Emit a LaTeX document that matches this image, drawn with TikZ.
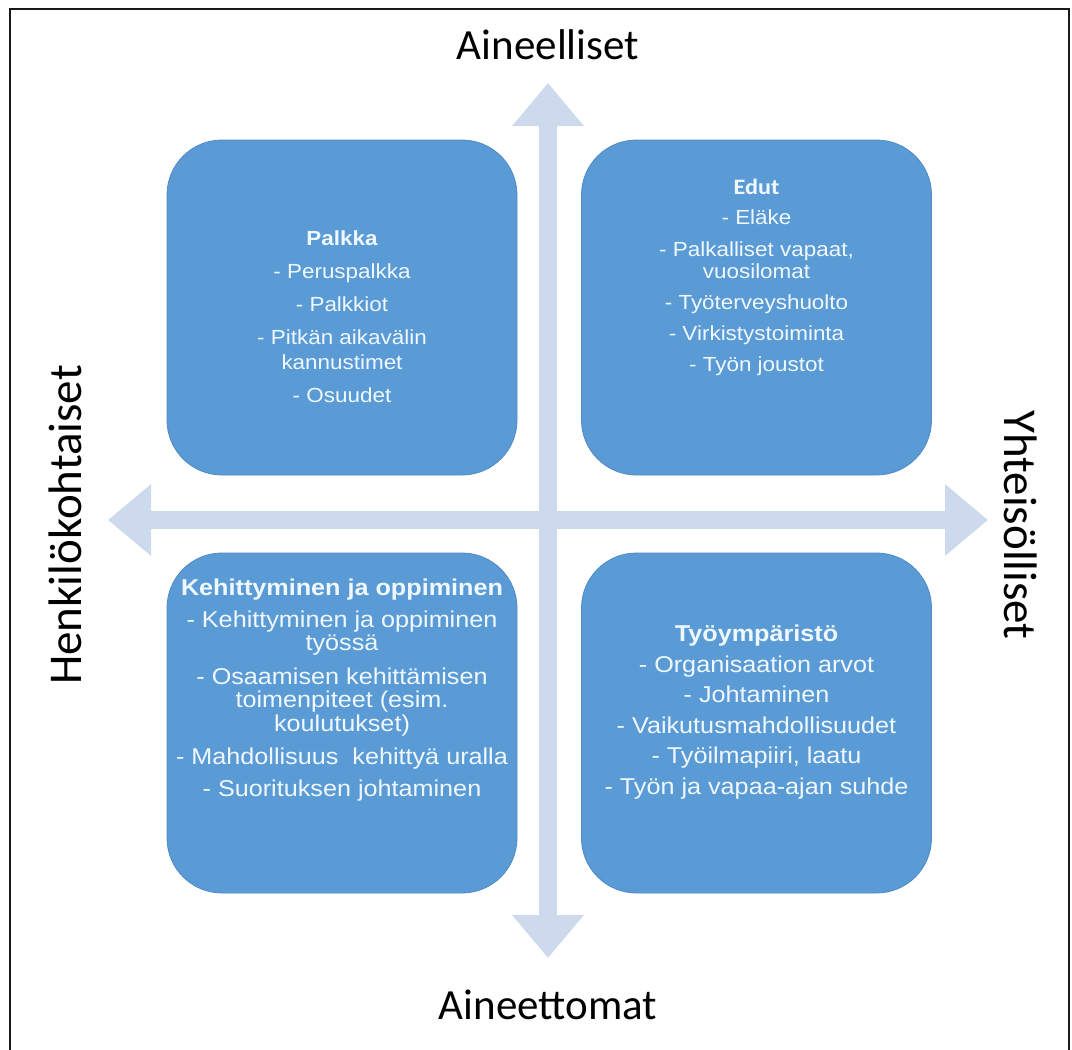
\documentclass[tikz,border=0pt]{standalone}
\usepackage{fontspec}
\setmainfont{Liberation Sans}
\newfontfamily\axisfont{Carlito}
\newfontfamily\quadfont[FakeStretch=1.1]{Liberation Sans}
\newfontfamily\edutfont[FakeStretch=1.1]{Carlito}
\usetikzlibrary{arrows.meta}

\definecolor{framecol}{RGB}{25,25,25}
\definecolor{axiscol}{RGB}{205,217,236}
\definecolor{quadfill}{RGB}{91,155,213}
\definecolor{quadline}{RGB}{78,138,198}
\definecolor{quadtext}{RGB}{240,248,255}

\begin{document}
\begin{tikzpicture}[x=1pt,y=-1pt,
  axis/.style={draw=axiscol, line width=18pt,
    {Triangle[length=43pt,width=69pt]}-{Triangle[length=43pt,width=69pt]}},
  quad/.style={fill=quadfill, draw=quadline, line width=0.8pt,
    rounded corners=55pt, inner sep=0pt},
  topquad/.style={quad, minimum width=350pt, minimum height=335pt},
  botquad/.style={quad, minimum width=350pt, minimum height=340pt},
  qtext/.style={text=quadtext, align=center, inner sep=0pt},
  toptext/.style={qtext, font=\quadfont\fontsize{20.4}{25}\selectfont},
  bottext/.style={qtext, font=\quadfont\fontsize{22.9}{23.5}\selectfont},
  axislabel/.style={font=\axisfont\fontsize{43}{50}\selectfont,
    text=black, inner sep=0pt},
  sidelabel/.style={axislabel, font=\axisfont\fontsize{47}{50}\selectfont}
]
\useasboundingbox (0,0) rectangle (1072,1050);
\clip (0,0) rectangle (1072,1050);
\fill[white] (0,0) rectangle (1072,1050);

% outer frame
\draw[framecol, line width=2.5pt] (10,9) rectangle (1069,1070);

% axes
\coordinate (ytop) at (548,83);
\coordinate (ybot) at (548,958);
\coordinate (xleft) at (108,520);
\coordinate (xright) at (988,520);
\draw[axis] (ybot) -- (ytop);
\draw[axis] (xleft) -- (xright);

% axis labels
\node[axislabel] (upper) at (548,45) {Aineelliset};
\node[axislabel] (lower) at (548,1005) {Aineettomat};
\node[sidelabel, rotate=90] (leftlab) at (65,525) {Henkilökohtaiset};
\node[sidelabel, rotate=-90] (rightlab) at (1021,525) {Yhteisölliset};

% quadrant boxes
\node[topquad] (pay) at (342,307.5) {};
\node[topquad] (benefits) at (756.5,307.5) {};
\node[botquad] (growth) at (342,723) {};
\node[botquad] (workenv) at (756.5,723) {};

% quadrant texts
\node[toptext] (paytext) at (342,316.5)
  {{\bfseries Palkka}\\[8pt]- Peruspalkka\\[8pt]- Palkkiot\\[8pt]- Pitkän aikavälin\\kannustimet\\[8pt]- Osuudet};
\node[toptext, font=\quadfont\fontsize{20.4}{22}\selectfont] (benefitstext) at (756.5,277)
  {{\edutfont\fontsize{22}{22}\selectfont\bfseries Edut}\\[8pt]- Eläke\\[10pt]- Palkalliset vapaat,\\vuosilomat\\[9pt]- Työterveyshuolto\\[9pt]- Virkistystoiminta\\[9pt]- Työn joustot};
\node[bottext] (growthtext) at (342,690)
  {{\bfseries Kehittyminen ja oppiminen}\\[8pt]- Kehittyminen ja oppiminen\\työssä\\[10pt]- Osaamisen kehittämisen\\toimenpiteet (esim.\\koulutukset)\\[10pt]- Mahdollisuus\ \ kehittyä uralla\\[8pt]- Suorituksen johtaminen};
\node[bottext] (workenvtext) at (756.5,712)
  {{\bfseries Työympäristö}\\[7pt]- Organisaation arvot\\[7pt]- Johtaminen\\[7pt]- Vaikutusmahdollisuudet\\[7pt]- Työilmapiiri, laatu\\[7pt]- Työn ja vapaa-ajan suhde};
\end{tikzpicture}
\end{document}
